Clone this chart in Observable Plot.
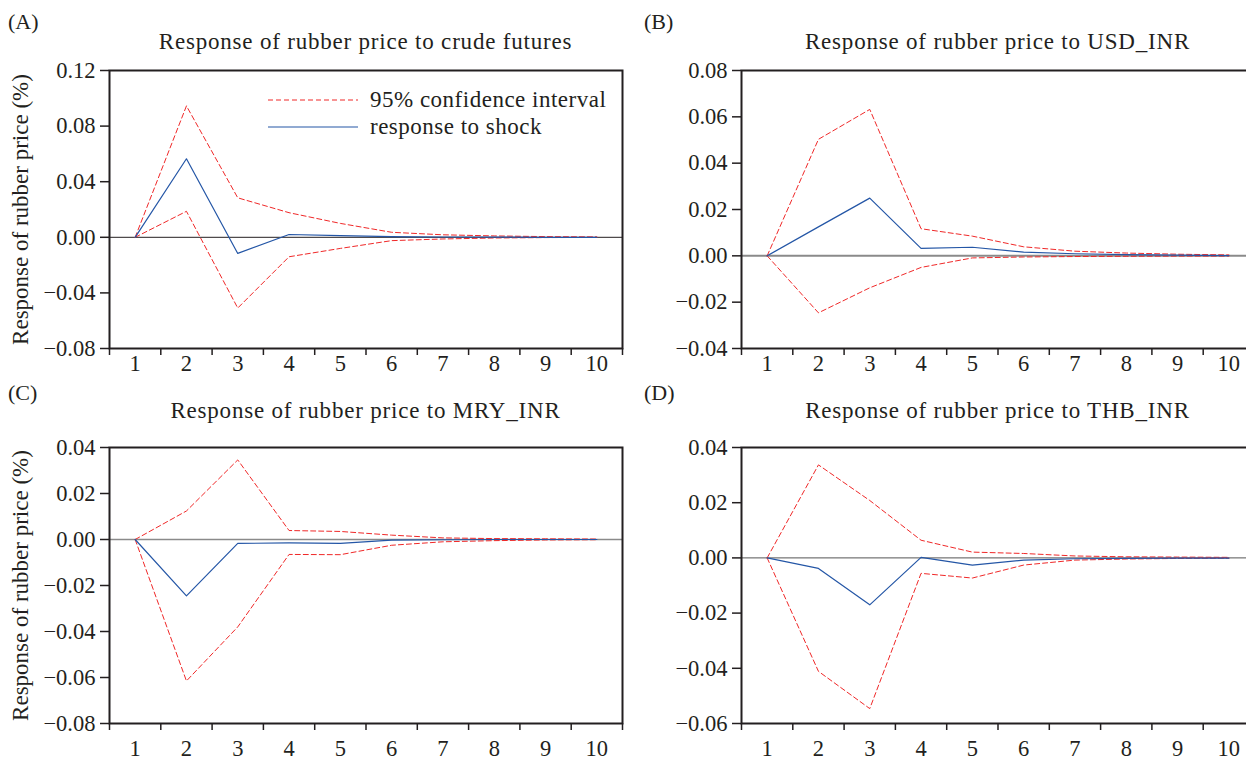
<!DOCTYPE html>
<html>
<head>
<meta charset="utf-8">
<script src="https://cdn.jsdelivr.net/npm/d3@7"></script>
<script src="https://cdn.jsdelivr.net/npm/@observablehq/plot@0.6"></script>
<style>
  html, body { margin: 0; padding: 0; background: #fff; overflow: hidden; }
  #root { position: relative; width: 1246px; height: 766px; overflow: hidden; background: #fff;
          font-family: "Liberation Serif", "DejaVu Serif", serif; color: #231f20; }
  #root svg text { font-family: "Liberation Serif", "DejaVu Serif", serif; }
  .abs { position: absolute; white-space: nowrap; }
  .title { font-size: 23px; letter-spacing: 0.8px; transform: translate(-50%, -50%); }
  .tag { font-size: 22px; transform: translate(0, -50%); }
  .leg { font-size: 23px; letter-spacing: 0.5px; display: flex; align-items: center; transform: translate(0, -50%); }
  .leg svg { margin-right: 12px; }
</style>
</head>
<body>
<div id="root"></div>
<script>
// ---- data ----
const periods = [1, 2, 3, 4, 5, 6, 7, 8, 9, 10];

const crudeResp  = [0, 0.0565, -0.0116, 0.0020, 0.0012, 0.0005, 0.0002, 0.0001, 0.0000, 0.0000];
const crudeUpper = [0, 0.0945, 0.0284, 0.0177, 0.0100, 0.0036, 0.0018, 0.0010, 0.0005, 0.0003];
const crudeLower = [0, 0.0187, -0.0509, -0.0140, -0.0080, -0.0024, -0.0012, -0.0005, -0.0002, -0.0001];

const usdResp  = [0, 0.0125, 0.0249, 0.0032, 0.0037, 0.0016, 0.0009, 0.0005, 0.0003, 0.0001];
const usdUpper = [0, 0.0503, 0.0632, 0.0117, 0.0085, 0.0039, 0.0020, 0.0012, 0.0007, 0.0004];
const usdLower = [0, -0.0246, -0.0138, -0.0050, -0.0009, -0.0005, -0.0003, -0.0002, -0.0001, -0.0001];

const mryResp  = [0, -0.0245, -0.0017, -0.0015, -0.0017, -0.0003, -0.0001, 0.0000, 0.0000, 0.0000];
const mryUpper = [0, 0.0124, 0.0346, 0.0039, 0.0035, 0.0019, 0.0007, 0.0004, 0.0003, 0.0002];
const mryLower = [0, -0.0615, -0.0380, -0.0065, -0.0066, -0.0025, -0.0010, -0.0005, -0.0002, -0.0001];

const thbResp  = [0, -0.0038, -0.0170, 0.0002, -0.0026, -0.0008, -0.0003, -0.0002, -0.0001, -0.0001];
const thbUpper = [0, 0.0337, 0.0208, 0.0064, 0.0021, 0.0016, 0.0007, 0.0004, 0.0003, 0.0002];
const thbLower = [0, -0.0411, -0.0546, -0.0056, -0.0073, -0.0026, -0.0008, -0.0004, -0.0002, -0.0001];

const ticksA = [-0.08, -0.04, 0.00, 0.04, 0.08, 0.12];
const ticksB = [-0.04, -0.02, 0.00, 0.02, 0.04, 0.06, 0.08];
const ticksC = [-0.08, -0.06, -0.04, -0.02, 0.00, 0.02, 0.04];
const ticksD = [-0.06, -0.04, -0.02, 0.00, 0.02, 0.04];

const panelTags = ["(A)", "(B)", "(C)", "(D)"];
const panelTitles = [
  "Response of rubber price to crude futures",
  "Response of rubber price to USD_INR",
  "Response of rubber price to MRY_INR",
  "Response of rubber price to THB_INR"
];
const yLabel = "Response of rubber price (%)";
const legendLabels = ["95% confidence interval", "response to shock"];

// ---- build ----
const root = document.getElementById("root");
const INK = "#231f20";
const RED = "#f02828";
const BLUE = "#2456a6";
const FONT = "'Liberation Serif', 'DejaVu Serif', serif";
const fmt = d3.format(".2f");

function rowsOf(resp, upper, lower) {
  return periods.map((p, i) => ({ period: p, resp: resp[i], upper: upper[i], lower: lower[i] }));
}

const panels = [
  { rows: rowsOf(crudeResp, crudeUpper, crudeLower), ticks: ticksA, left: 0, top: 60, ml: 109, mb: 35, ylab: true, zero: { stroke: INK, w: 1 } },
  { rows: rowsOf(usdResp, usdUpper, usdLower), ticks: ticksB, left: 620, top: 60, ml: 121, mb: 35, ylab: false, zero: { stroke: "#8a8a8a", w: 2 } },
  { rows: rowsOf(mryResp, mryUpper, mryLower), ticks: ticksC, left: 0, top: 437, ml: 109, mb: 45, ylab: true, zero: { stroke: "#8a8a8a", w: 1.5 } },
  { rows: rowsOf(thbResp, thbUpper, thbLower), ticks: ticksD, left: 620, top: 437, ml: 121, mb: 45, ylab: false, zero: { stroke: "#555", w: 1 } }
];

panels.forEach((p, k) => {
  const mt = 10, plotW = 513, plotH = k < 2 ? 278 : 276, mr = 3;
  const width = p.ml + plotW + mr;
  const height = mt + plotH + p.mb;
  const dom = [p.ticks[0], p.ticks[p.ticks.length - 1]];
  const marks = [
    Plot.ruleY([0], { stroke: p.zero.stroke, strokeWidth: p.zero.w }),
    Plot.line(p.rows, { x: "period", y: "upper", stroke: RED, strokeWidth: 1, strokeDasharray: "5,3" }),
    Plot.line(p.rows, { x: "period", y: "lower", stroke: RED, strokeWidth: 1, strokeDasharray: "5,3" }),
    Plot.line(p.rows, { x: "period", y: "resp", stroke: BLUE, strokeWidth: 1.2 }),
    Plot.frame({ stroke: INK, strokeWidth: 2 }),
    Plot.axisY({ ticks: p.ticks, tickSize: 9, tickPadding: 5, tickFormat: fmt, fontSize: 22.5, stroke: INK, strokeWidth: 1.5, fill: INK, label: null }),
    Plot.axisX({ ticks: d3.range(0.5, 11, 1), tickSize: 7, tickFormat: () => "", stroke: INK, strokeWidth: 1.5, label: null }),
    Plot.axisX({ ticks: periods, tickSize: 0, tickPadding: k < 2 ? 7 : 17, tickFormat: d => String(d), fontSize: 22.5, fill: INK, label: null })
  ];
  if (p.ylab) {
    marks.push(Plot.text([yLabel], { text: d => d, frameAnchor: "left", textAnchor: "middle", dx: 20 - p.ml, rotate: -90, fontSize: 23, fill: INK }));
  }
  const svg = Plot.plot({
    width, height,
    marginLeft: p.ml, marginRight: mr, marginTop: mt, marginBottom: p.mb,
    x: { type: "linear", domain: [0.5, 10.5], axis: null },
    y: { type: "linear", domain: dom, axis: null },
    style: `font-family: ${FONT}; font-size: 22px; background: transparent; color: ${INK}; overflow: visible;`,
    marks
  });
  svg.setAttribute("font-family", FONT);
  svg.style.fontFamily = FONT;
  svg.style.position = "absolute";
  svg.style.left = p.left + "px";
  svg.style.top = p.top + "px";
  svg.style.maxWidth = "none";
  root.appendChild(svg);

  // tag and title
  const tag = document.createElement("div");
  tag.className = "abs tag";
  tag.textContent = panelTags[k];
  tag.style.left = (k % 2 === 0 ? 8 : 644) + "px";
  tag.style.top = (k < 2 ? 22 : 393) + "px";
  root.appendChild(tag);

  const title = document.createElement("div");
  title.className = "abs title";
  title.textContent = panelTitles[k];
  title.style.left = (p.left + p.ml + plotW / 2) + "px";
  title.style.top = (k < 2 ? 42 : 411) + "px";
  root.appendChild(title);
});

// legend in panel A
const legStyles = [
  { stroke: RED, dash: "5,3", w: 1, y: 100 },
  { stroke: BLUE, dash: null, w: 1.2, y: 126.5 }
];
legendLabels.forEach((lab, i) => {
  const s = legStyles[i];
  const row = document.createElement("div");
  row.className = "abs leg";
  row.style.left = "268px";
  row.style.top = s.y + "px";
  const ns = "http://www.w3.org/2000/svg";
  const sv = document.createElementNS(ns, "svg");
  sv.setAttribute("width", 90); sv.setAttribute("height", 4);
  const ln = document.createElementNS(ns, "line");
  ln.setAttribute("x1", 0); ln.setAttribute("x2", 90); ln.setAttribute("y1", 2); ln.setAttribute("y2", 2);
  ln.setAttribute("stroke", s.stroke); ln.setAttribute("stroke-width", s.w);
  if (s.dash) ln.setAttribute("stroke-dasharray", s.dash);
  sv.appendChild(ln);
  row.appendChild(sv);
  const t = document.createElement("span");
  t.textContent = lab;
  row.appendChild(t);
  root.appendChild(row);
});
</script>
</body>
</html>
